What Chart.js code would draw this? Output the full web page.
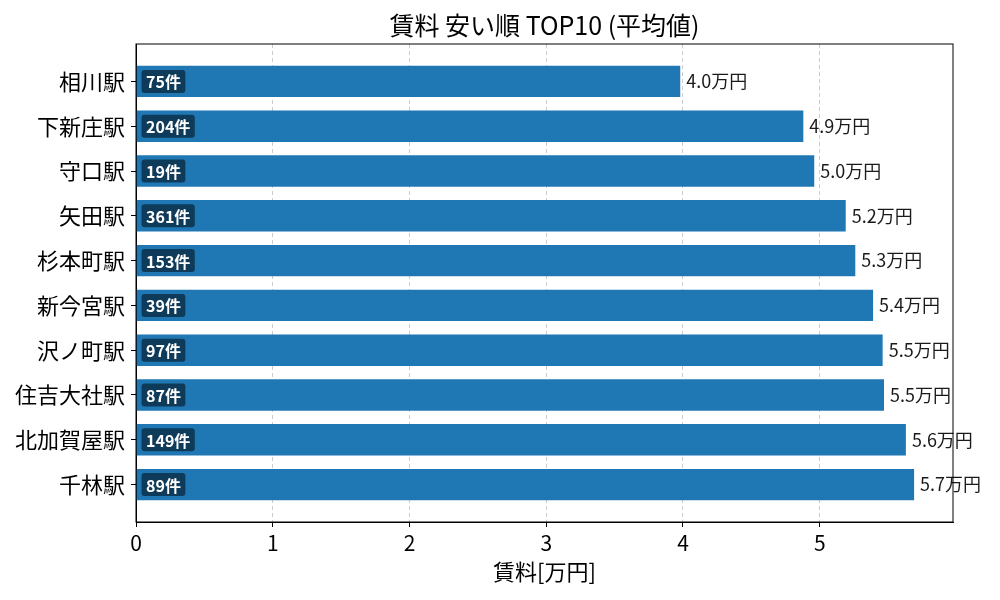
<!DOCTYPE html>
<html lang="ja">
<head>
    <meta charset="UTF-8">
    <title>賃料 安い順 TOP10</title>
    <script src="https://cdn.jsdelivr.net/npm/chart.js"></script>
    <style>
        body { margin: 0; padding: 0; background: #ffffff; }
        #wrap { width: 1000px; height: 600px; }
    </style>
</head>
<body>
    <div id="wrap"><canvas id="rentChart" width="1000" height="600"></canvas></div>

    <script>
        // data
        const stations = ['相川駅', '下新庄駅', '守口駅', '矢田駅', '杉本町駅', '新今宮駅', '沢ノ町駅', '住吉大社駅', '北加賀屋駅', '千林駅'];
        const rents = [3.98, 4.88, 4.96, 5.19, 5.26, 5.39, 5.46, 5.47, 5.63, 5.69];
        const counts = [75, 204, 19, 361, 153, 39, 97, 87, 149, 89];
        const xTicks = [0, 1, 2, 3, 4, 5];

        const FONT = "'Noto Sans CJK JP', 'Noto Sans', sans-serif";
        const xMax = Math.max(...rents) * 1.05;

        // 4-sided frame like matplotlib spines; title centred over the axes
        const framePlugin = {
            id: 'frame',
            afterLayout(chart) {
                if (chart.titleBlock) {
                    chart.titleBlock.left = chart.chartArea.left;
                    chart.titleBlock.right = chart.chartArea.right;
                }
            },
            afterDraw(chart) {
                const { ctx, chartArea: a } = chart;
                ctx.save();
                ctx.strokeStyle = '#000';
                ctx.lineWidth = 1;
                ctx.strokeRect(a.left, a.top, a.right - a.left, a.bottom - a.top);
                ctx.restore();
            }
        };

        // count badge inside bar + value label after bar
        const labelPlugin = {
            id: 'barLabels',
            afterDatasetsDraw(chart) {
                const { ctx } = chart;
                const meta = chart.getDatasetMeta(0);
                ctx.save();
                meta.data.forEach((bar, i) => {
                    // value
                    ctx.font = '18px ' + FONT;
                    ctx.fillStyle = '#1a1a1a';
                    ctx.textAlign = 'left';
                    ctx.textBaseline = 'middle';
                    ctx.fillText(rents[i].toFixed(1) + '万円', bar.x + 6, bar.y);

                    // badge
                    const txt = counts[i] + '件';
                    ctx.font = 'bold 16px ' + FONT;
                    const w = ctx.measureText(txt).width + 9;
                    const h = 23;
                    const bx = bar.base + 5;
                    const by = bar.y - h / 2;
                    ctx.fillStyle = 'rgba(0, 0, 0, 0.5)';
                    ctx.beginPath();
                    ctx.roundRect(bx, by, w, h, 3);
                    ctx.fill();
                    ctx.fillStyle = '#ffffff';
                    ctx.fillText(txt, bx + 4.5, bar.y + 1);
                });
                ctx.restore();
            }
        };

        const ctx = document.getElementById('rentChart').getContext('2d');
        const rentChart = new Chart(ctx, {
            type: 'bar',
            data: {
                datasets: [{
                    label: '賃料',
                    data: rents.map((v, i) => ({ x: v, y: i })),
                    backgroundColor: '#1f77b4',
                    borderWidth: 0,
                    barPercentage: 0.7,
                    categoryPercentage: 1.0
                }]
            },
            options: {
                responsive: false,
                animation: false,
                indexAxis: 'y',
                layout: { padding: { top: 0, right: 47, bottom: 0, left: 0 } },
                plugins: {
                    legend: { display: false },
                    tooltip: { enabled: false },
                    title: {
                        display: true,
                        text: '賃料 安い順 TOP10 (平均値)',
                        color: '#000',
                        font: { family: FONT, size: 25, weight: 'normal', lineHeight: 1.2 },
                        padding: { top: 10, bottom: 4 }
                    }
                },
                scales: {
                    x: {
                        type: 'linear',
                        min: 0,
                        max: xMax,
                        afterBuildTicks: (scale) => { scale.ticks = xTicks.map(v => ({ value: v })); },
                        afterFit: (scale) => { scale.height = 78; },
                        ticks: {
                            color: '#000',
                            font: { family: FONT, size: 21 },
                            padding: 3
                        },
                        grid: {
                            color: '#cccccc',
                            lineWidth: 1,
                            tickColor: '#000',
                            tickLength: 5
                        },
                        border: { display: true, color: '#000', width: 1, dash: [4, 3] },
                        title: {
                            display: true,
                            text: '賃料[万円]',
                            color: '#000',
                            font: { family: FONT, size: 22 },
                            padding: { top: 0, bottom: 15 }
                        }
                    },
                    y: {
                        type: 'linear',
                        reverse: true,
                        offset: false,
                        min: -0.835,
                        max: 9.835,
                        afterBuildTicks: (scale) => { scale.ticks = stations.map((s, i) => ({ value: i })); },
                        afterFit: (scale) => { scale.width = 136; },
                        ticks: {
                            color: '#000',
                            font: { family: FONT, size: 22 },
                            padding: 6,
                            callback: (v) => stations[v]
                        },
                        grid: {
                            offset: false,
                            drawOnChartArea: false,
                            tickColor: '#000',
                            tickLength: 5
                        },
                        border: { display: true, color: '#000', width: 1 }
                    }
                }
            },
            plugins: [framePlugin, labelPlugin]
        });
    </script>
</body>
</html>
